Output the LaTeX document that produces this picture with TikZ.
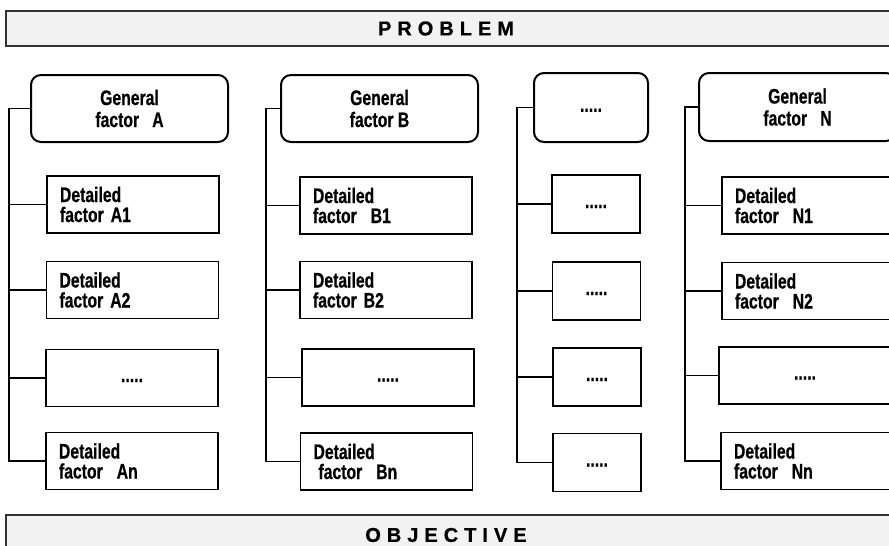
\documentclass[tikz,border=0pt]{standalone}
\usepackage{fontspec}
\setmainfont{Liberation Sans}[FakeStretch=0.75]
\newfontfamily\spacedfont{Liberation Sans}[LetterSpace=30]
\usepackage{tikz}
\usetikzlibrary{positioning}

\newcommand\boxfont{\bfseries\addfontfeature{FakeBold=0.6}\fontsize{21}{20}\selectfont}

\begin{document}
\begin{tikzpicture}[
    x=1pt, y=-1pt,
    every node/.style={font=\boxfont, inner sep=0pt},
    general/.style={draw, rounded corners=10pt, line width=2pt, align=center, minimum width=197pt, minimum height=67pt, font=\boxfont\fontsize{21}{22}\selectfont},
    detail/.style={draw, line width=1.4pt, align=left, text width=146pt, minimum height=57pt, inner xsep=13pt},
    dotbox/.style={draw, line width=1.4pt, minimum width=172pt, minimum height=57pt},
    bar/.style={draw=black!80, fill=black!5, line width=1.2pt, minimum width=888pt, minimum height=35pt, font=\spacedfont\bfseries\addfontfeature{FakeBold=0.8}\fontsize{20}{20}\selectfont},
    link/.style={line width=1.5pt},
  ]

  \useasboundingbox (0,0) rectangle (889,546);
  \clip (0,0) rectangle (889,546);

  % Top and bottom bars
  \node[bar] (problem) at (450,28.5) {\hspace{-8pt}PROBLEM};
  \node[bar, minimum height=40pt] (objective) at (450,535) {\hspace{-8pt}OBJECTIVE};

  % Trunks
  \coordinate (ta) at (9,0);
  \coordinate (tb) at (266,0);
  \coordinate (tc) at (517,0);
  \coordinate (tn) at (685,0);

  % Column A
  \node[general] (ga) at (129.5,108.5) {General\\ factor~~~A};
  \node[detail]  (a1) at (133,204.5)   {Detailed\\factor A1};
  \node[detail]  (a2) at (132.5,290)   {Detailed\\factor A2};
  \node[dotbox]  (a3) at (132,378)     {\strut.....};
  \node[detail]  (an) at (132,461)     {Detailed\\factor~~An};

  % Column B
  \node[general] (gb) at (379.5,108.5) {General\\ factor B};
  \node[detail]  (b1) at (386,205.5)   {Detailed\\factor~~B1};
  \node[detail]  (b2) at (386,290)     {Detailed\\factor B2};
  \node[dotbox]  (b3) at (388,377.5)   {\strut.....};
  \node[detail]  (bn) at (386.5,461.5) {Detailed\\\hspace{5pt}factor~~Bn};

  % Column C
  \node[general, minimum width=114pt, minimum height=69pt] (gc) at (591,107.5) {\strut.....};
  \node[dotbox, minimum width=88pt, minimum height=58pt] (c1) at (596,204)   {\strut.....};
  \node[dotbox, minimum width=88pt, minimum height=58pt] (c2) at (596.5,291) {\strut.....};
  \node[dotbox, minimum width=88pt, minimum height=58pt] (c3) at (597,377)   {\strut.....};
  \node[dotbox, minimum width=88pt, minimum height=58pt] (c4) at (597,462.5) {\strut.....};

  % Column N
  \node[general, minimum height=68pt] (gn) at (797.5,107) {General\\ factor~~~N};
  \node[detail]  (n1) at (808,205.5) {Detailed\\factor~~N1};
  \node[detail]  (n2) at (808,291)   {Detailed\\factor~~N2};
  \node[dotbox]  (n3) at (805,375.5) {\strut.....};
  \node[detail]  (nn) at (807,461)   {Detailed\\factor~~Nn};

  % Connectors A
  \draw[link] (ga.west) -- (ga.west -| ta) |- (an.west);
  \draw[link] (a1.west) -- (a1.west -| ta);
  \draw[link] (a2.west) -- (a2.west -| ta);
  \draw[link] (a3.west) -- (a3.west -| ta);

  % Connectors B
  \draw[link] (gb.west) -- (gb.west -| tb) |- (bn.west);
  \draw[link] (b1.west) -- (b1.west -| tb);
  \draw[link] (b2.west) -- (b2.west -| tb);
  \draw[link] (b3.west) -- (b3.west -| tb);

  % Connectors C
  \draw[link] (gc.west) -- (gc.west -| tc) |- (c4.west);
  \draw[link] (c1.west) -- (c1.west -| tc);
  \draw[link] (c2.west) -- (c2.west -| tc);
  \draw[link] (c3.west) -- (c3.west -| tc);

  % Connectors N
  \draw[link] (gn.west) -- (gn.west -| tn) |- (nn.west);
  \draw[link] (n1.west) -- (n1.west -| tn);
  \draw[link] (n2.west) -- (n2.west -| tn);
  \draw[link] (n3.west) -- (n3.west -| tn);

\end{tikzpicture}
\end{document}
